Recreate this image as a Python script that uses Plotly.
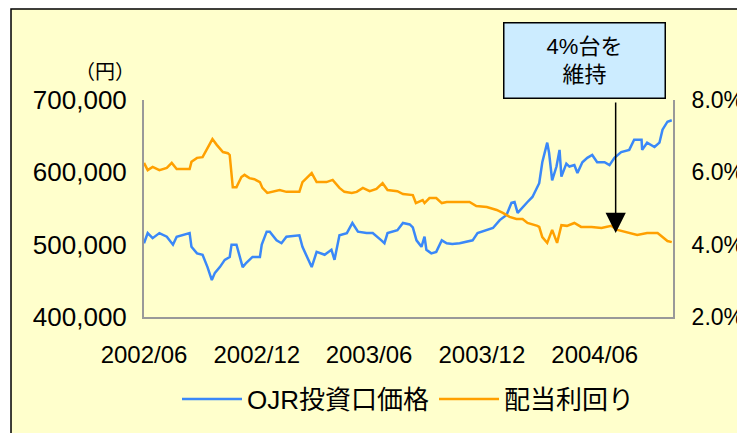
import plotly.graph_objects as go

# ---- data ----
price_dates = [
    "2002-06-01", "2002-06-07", "2002-06-15", "2002-06-26", "2002-07-08", "2002-07-18", "2002-07-24",
    "2002-08-01", "2002-08-14", "2002-08-17", "2002-08-26", "2002-09-04", "2002-09-12", "2002-09-19",
    "2002-09-24", "2002-10-02", "2002-10-10", "2002-10-18", "2002-10-21", "2002-10-29", "2002-11-03",
    "2002-11-08", "2002-11-14", "2002-11-24", "2002-12-06", "2002-12-09", "2002-12-17", "2002-12-22",
    "2003-01-02", "2003-01-10", "2003-01-18", "2003-02-08", "2003-02-13", "2003-02-21", "2003-02-28",
    "2003-03-08", "2003-03-21", "2003-04-01", "2003-04-06", "2003-04-14", "2003-04-26", "2003-05-05",
    "2003-05-14", "2003-05-28", "2003-06-07", "2003-06-21", "2003-06-26", "2003-07-01", "2003-07-17",
    "2003-07-26", "2003-08-06", "2003-08-11", "2003-08-17", "2003-08-25", "2003-08-30", "2003-09-02",
    "2003-09-10", "2003-09-18", "2003-09-27", "2003-10-05", "2003-10-14", "2003-10-26", "2003-11-06",
    "2003-11-16", "2003-11-24", "2003-12-09", "2003-12-19", "2003-12-30", "2004-01-10", "2004-01-18",
    "2004-01-23", "2004-01-28", "2004-02-05", "2004-02-13", "2004-02-21", "2004-02-29", "2004-03-03",
    "2004-03-08", "2004-03-16", "2004-03-19", "2004-03-24", "2004-03-31", "2004-04-05", "2004-04-08",
    "2004-04-16", "2004-04-21", "2004-04-29", "2004-05-04", "2004-05-12", "2004-05-20", "2004-05-28",
    "2004-06-05", "2004-06-17", "2004-06-25", "2004-07-03", "2004-07-14", "2004-07-27", "2004-08-04",
    "2004-08-16", "2004-08-17", "2004-08-25", "2004-09-06", "2004-09-14", "2004-09-19", "2004-09-27",
    "2004-10-04",
]
price_values = [
    502000, 516000, 509000, 516000, 511000, 500000, 511000,
    513000, 516000, 497000, 488000, 486000, 469000, 451000,
    461000, 469000, 479000, 483000, 500000, 500000, 483000,
    469000, 475000, 483000, 483000, 500000, 518000, 518000,
    506000, 502000, 511000, 513000, 497000, 481000, 469000,
    490000, 486000, 493000, 479000, 513000, 516000, 530000,
    518000, 516000, 516000, 506000, 502000, 516000, 520000,
    530000, 528000, 524000, 506000, 497000, 511000, 493000,
    488000, 490000, 506000, 502000, 501000, 502000, 504000,
    506000, 516000, 520000, 523000, 534000, 541000, 558000,
    559000, 544000, 552000, 559000, 566000, 580000, 585000,
    614000, 641000, 627000, 589000, 608000, 631000, 594000,
    612000, 608000, 610000, 599000, 614000, 620000, 624000,
    614000, 614000, 610000, 620000, 628000, 631000, 645000,
    645000, 631000, 641000, 635000, 641000, 659000, 670000,
    672000,
]

yield_dates = [
    "2002-06-01", "2002-06-07", "2002-06-15", "2002-06-26", "2002-07-08", "2002-07-16", "2002-07-24",
    "2002-08-14", "2002-08-17", "2002-08-26", "2002-09-04", "2002-09-12", "2002-09-20", "2002-09-27",
    "2002-10-07", "2002-10-15", "2002-10-18", "2002-10-23", "2002-10-29", "2002-11-06", "2002-11-11",
    "2002-11-19", "2002-11-27", "2002-12-06", "2002-12-10", "2002-12-18", "2002-12-27", "2003-01-07",
    "2003-01-18", "2003-02-08", "2003-02-13", "2003-02-21", "2003-02-28", "2003-03-08", "2003-03-24",
    "2003-04-03", "2003-04-14", "2003-04-22", "2003-05-04", "2003-05-12", "2003-05-22", "2003-06-02",
    "2003-06-13", "2003-06-23", "2003-07-01", "2003-07-17", "2003-07-26", "2003-08-11", "2003-08-16",
    "2003-08-27", "2003-08-30", "2003-09-07", "2003-09-18", "2003-09-27", "2003-10-05", "2003-11-11",
    "2003-11-22", "2003-12-09", "2003-12-25", "2004-01-04", "2004-01-15", "2004-01-26", "2004-02-05",
    "2004-02-13", "2004-02-21", "2004-02-29", "2004-03-03", "2004-03-08", "2004-03-16", "2004-03-24",
    "2004-04-01", "2004-04-08", "2004-04-17", "2004-04-29", "2004-05-10", "2004-05-27", "2004-06-12",
    "2004-06-28", "2004-07-08", "2004-07-24", "2004-08-09", "2004-08-25", "2004-09-11", "2004-09-19",
    "2004-09-27", "2004-10-04",
]
yield_values = [
    6.26, 6.06, 6.15, 6.06, 6.12, 6.26, 6.09,
    6.09, 6.29, 6.40, 6.42, 6.67, 6.92, 6.76,
    6.56, 6.53, 6.48, 5.59, 5.59, 5.87, 5.93,
    5.84, 5.81, 5.73, 5.57, 5.43, 5.46, 5.51,
    5.46, 5.46, 5.73, 5.87, 5.98, 5.73, 5.73,
    5.79, 5.57, 5.46, 5.43, 5.46, 5.57, 5.48,
    5.54, 5.70, 5.51, 5.48, 5.40, 5.37, 5.15,
    5.23, 5.15, 5.29, 5.29, 5.15, 5.18, 5.18,
    5.07, 5.04, 4.96, 4.88, 4.77, 4.71, 4.71,
    4.60, 4.57, 4.52, 4.49, 4.21, 4.05, 4.41,
    4.05, 4.54, 4.52, 4.60, 4.49, 4.49, 4.46,
    4.52, 4.41, 4.35, 4.27, 4.32, 4.32, 4.21,
    4.10, 4.07,
]

x_tick_dates = ["2002-06-01", "2002-12-01", "2003-06-01", "2003-12-01", "2004-06-01"]
x_tick_labels = ["2002/06", "2002/12", "2003/06", "2003/12", "2004/06"]
price_ticks = [400000, 500000, 600000, 700000]
yield_ticks = [2.0, 4.0, 6.0, 8.0]
yield_tick_labels = ["2.0%", "4.0%", "6.0%", "8.0%"]

series_names = ["OJR投資口価格", "配当利回り"]
callout_text = "4%台を<br>維持"
callout_date = "2004-07-05"
callout_yield = 4.32
unit_label = "（円）"

# ---- styling ----
FONT = "Liberation Sans, Arial, Noto Sans CJK JP"
BG = "#FFFFCC"
AXIS = "#999999"
BLUE = "#3A88F8"
ORANGE = "#FFA000"

fig = go.Figure()
fig.add_trace(go.Scatter(x=price_dates, y=price_values, name=series_names[0], mode="lines",
                         line=dict(color=BLUE, width=2.5), yaxis="y"))
fig.add_trace(go.Scatter(x=yield_dates, y=yield_values, name=series_names[1], mode="lines",
                         line=dict(color=ORANGE, width=2.5), yaxis="y2"))

fig.update_layout(
    width=745, height=425,
    margin=dict(l=136, r=80, t=92, b=116, autoexpand=False),
    paper_bgcolor="white",
    plot_bgcolor="rgba(0,0,0,0)",
    font=dict(family=FONT, size=24, color="black"),
    showlegend=True,
    legend=dict(orientation="h", x=0.5, xanchor="center", y=-0.27, yanchor="top",
                font=dict(size=26), bgcolor="rgba(0,0,0,0)", itemwidth=60,
                traceorder="normal"),
    xaxis=dict(type="date", range=["2002-06-01", "2004-10-06"], automargin=False,
               tickvals=x_tick_dates, ticktext=x_tick_labels,
               showline=True, linecolor=AXIS, linewidth=2, showgrid=False, zeroline=False,
               ticks="outside", ticklen=15, tickcolor="rgba(0,0,0,0)",
               tickfont=dict(size=24)),
    yaxis=dict(range=[400000, 700000], tickvals=price_ticks, tickformat=",d", automargin=False,
               showline=True, linecolor=AXIS, linewidth=2, showgrid=False, zeroline=False,
               ticks="outside", ticklen=10, tickcolor="rgba(0,0,0,0)",
               tickfont=dict(size=26)),
    yaxis2=dict(range=[2, 8], tickvals=yield_ticks, ticktext=yield_tick_labels,
                overlaying="y", side="right", automargin=False, ticklabeloverflow="allow",
                showline=True, linecolor=AXIS, linewidth=2, showgrid=False, zeroline=False,
                ticks="outside", ticklen=12, tickcolor="rgba(0,0,0,0)",
                tickfont=dict(size=23)),
)

# chart frame (yellow panel with black border, extending past right/bottom edges)
fig.add_shape(type="rect", xref="paper", yref="paper",
              x0=-0.2514, x1=1.2, y0=-0.6, y1=1.4194,
              fillcolor=BG, line=dict(color="black", width=1.5), layer="below")

# unit label
fig.add_annotation(text=unit_label, xref="paper", yref="paper", x=-0.0737, y=1.129,
                   xanchor="center", yanchor="middle", showarrow=False,
                   font=dict(size=20))

# callout box
fig.add_annotation(text=callout_text, xref="paper", yref="paper", x=0.8336, y=1.18,
                   xanchor="center", yanchor="middle", showarrow=False,
                   width=156, height=70, bgcolor="#CCECFF", bordercolor="black",
                   borderwidth=1.5, borderpad=2, font=dict(size=22))

# arrow
fig.add_annotation(x=callout_date, y=callout_yield, xref="x", yref="y2", text="",
                   showarrow=True, arrowhead=2, arrowsize=2.7, arrowwidth=1.5,
                   arrowcolor="black", ax=0, ay=-132)

fig.write_html("out.html")
